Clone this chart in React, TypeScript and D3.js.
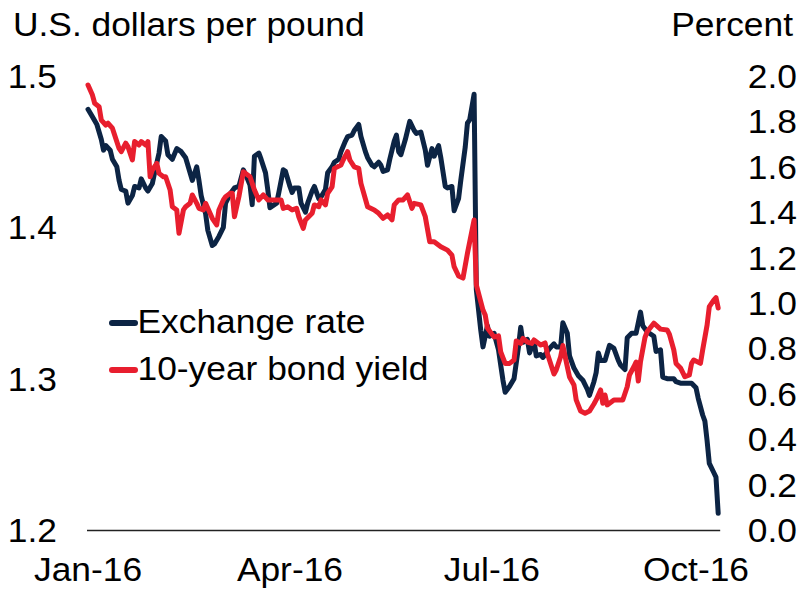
import React from "react";
import * as d3 from "d3";

// Days since 2016-01-01
const fxDays = [0,2,4,5,6,7,8,10,11,13,14,15,17,18,20,21,23,24,26,27,29,30,32,33,35,36,38,40,42,44,45,47,49,50,51,53,54,56,57,59,61,62,64,66,68,70,71,73,74,75,77,78,80,81,82,83,85,86,88,89,91,92,93,95,96,98,99,101,102,104,105,107,108,110,111,113,114,116,117,119,120,122,123,125,126,128,129,131,132,133,135,136,138,139,140,141,143,145,147,148,150,152,153,155,156,158,159,161,162,164,165,167,168,170,171,172,174,175,177,178,180,181,183,185,186,187,188,190,192,194,195,196,198,199,201,202,204,205,207,208,210,211,213,214,216,217,219,221,223,225,226,228,229,230,231,233,235,237,239,240,242,243,245,247,249,250,252,255,256,258,259,261,262,264,265,267,270,272,274,275,277,278,279,280,282,283,284];
const fxValues = [1.478,1.473,1.468,1.463,1.458,1.451,1.454,1.451,1.445,1.440,1.431,1.425,1.424,1.416,1.421,1.427,1.426,1.432,1.426,1.424,1.429,1.436,1.449,1.460,1.457,1.448,1.445,1.452,1.450,1.446,1.441,1.431,1.440,1.431,1.421,1.409,1.398,1.388,1.389,1.394,1.400,1.416,1.422,1.426,1.427,1.438,1.435,1.428,1.415,1.447,1.449,1.445,1.436,1.425,1.413,1.414,1.416,1.423,1.438,1.437,1.427,1.423,1.426,1.426,1.416,1.410,1.416,1.424,1.427,1.419,1.420,1.425,1.436,1.440,1.443,1.445,1.450,1.457,1.460,1.461,1.464,1.468,1.460,1.450,1.446,1.441,1.440,1.443,1.441,1.437,1.438,1.445,1.457,1.461,1.450,1.448,1.458,1.470,1.464,1.462,1.463,1.451,1.441,1.452,1.447,1.454,1.446,1.427,1.426,1.427,1.411,1.419,1.431,1.453,1.469,1.471,1.488,1.359,1.332,1.321,1.335,1.328,1.330,1.319,1.309,1.299,1.291,1.295,1.300,1.321,1.334,1.324,1.326,1.317,1.325,1.315,1.316,1.314,1.318,1.320,1.323,1.321,1.321,1.337,1.330,1.315,1.307,1.302,1.299,1.293,1.289,1.298,1.304,1.317,1.312,1.312,1.322,1.320,1.312,1.309,1.306,1.327,1.330,1.330,1.344,1.335,1.331,1.328,1.318,1.319,1.301,1.300,1.300,1.300,1.298,1.297,1.297,1.297,1.294,1.287,1.276,1.272,1.259,1.244,1.238,1.235,1.211];

const yieldDays = [0,2,3,5,6,8,9,11,12,14,15,17,18,20,21,23,24,26,27,28,29,31,32,34,35,37,38,40,41,43,44,46,47,49,50,52,53,55,56,58,59,61,62,64,65,66,68,70,71,73,75,77,79,81,84,87,88,90,92,94,95,97,98,101,102,104,105,107,108,110,111,114,115,117,118,120,122,123,126,129,131,133,135,137,138,140,142,144,146,147,150,152,154,156,159,162,164,165,167,169,171,174,175,178,179,180,182,183,185,186,188,190,192,193,195,196,198,200,201,204,206,207,210,211,213,214,216,217,219,220,222,224,226,228,229,231,232,233,234,237,239,241,243,244,246,247,248,249,251,252,255,258,261,262,264,265,267,269,271,272,273,276,277,279,280,282,283,284];
const yieldValues = [1.960,1.916,1.880,1.865,1.806,1.784,1.792,1.770,1.740,1.681,1.667,1.704,1.689,1.630,1.711,1.696,1.711,1.696,1.711,1.556,1.586,1.615,1.571,1.556,1.556,1.498,1.424,1.410,1.307,1.410,1.424,1.439,1.476,1.439,1.417,1.410,1.439,1.395,1.373,1.344,1.410,1.454,1.468,1.483,1.483,1.380,1.468,1.578,1.571,1.556,1.498,1.454,1.476,1.454,1.454,1.454,1.417,1.424,1.410,1.417,1.380,1.329,1.366,1.395,1.432,1.424,1.454,1.432,1.483,1.512,1.593,1.608,1.630,1.667,1.630,1.600,1.593,1.527,1.424,1.410,1.395,1.373,1.388,1.366,1.432,1.454,1.454,1.476,1.417,1.439,1.432,1.380,1.270,1.270,1.248,1.233,1.211,1.160,1.119,1.110,1.219,1.366,1.080,0.969,0.947,0.890,0.863,0.850,0.855,0.784,0.734,0.734,0.749,0.833,0.822,0.844,0.828,0.822,0.837,0.815,0.824,0.778,0.687,0.705,0.763,0.813,0.719,0.674,0.639,0.573,0.524,0.514,0.524,0.555,0.573,0.617,0.558,0.595,0.551,0.573,0.573,0.573,0.631,0.683,0.719,0.740,0.656,0.742,0.848,0.874,0.911,0.885,0.881,0.863,0.793,0.734,0.714,0.675,0.683,0.734,0.749,0.734,0.793,0.903,0.984,1.013,1.024,0.978];

const leftTicks = [1.2, 1.3, 1.4, 1.5];
const rightTicks = [0, 0.2, 0.4, 0.6, 0.8, 1.0, 1.2, 1.4, 1.6, 1.8, 2.0];
const xTickLabels = ["Jan-16", "Apr-16", "Jul-16", "Oct-16"];
const xTickDates = ["2016-01-01", "2016-04-01", "2016-07-01", "2016-10-01"];
const seriesNames = ["Exchange rate", "10-year bond yield"];

const NAVY = "#0c2444";
const RED = "#e81e2e";
const FONT = "'Liberation Sans', Arial, sans-serif";

const toDate = (d: number) => new Date(2016, 0, 1 + d);
const parse = (s: string) => { const [y, m, d] = s.split("-").map(Number); return new Date(y, m - 1, d); };

function T({ x, y, anchor = "start", children }: { x: number; y: number; anchor?: string; children: React.ReactNode }) {
  return (
    <text transform={`translate(${x},${y}) scale(1.04,1)`} fontSize={34} fill="#000" textAnchor={anchor}>
      {children}
    </text>
  );
}

export default function App() {
  const x = d3.scaleTime().domain([new Date(2016, 0, 1), new Date(2016, 9, 1)]).range([88, 696]);
  const yL = d3.scaleLinear().domain([1.2, 1.5]).range([530, 76]);
  const yR = d3.scaleLinear().domain([0, 2]).range([530, 76]);

  const fxLine = d3.line<number>().x((_, i) => x(toDate(fxDays[i]))).y((v) => yL(v));
  const yLine = d3.line<number>().x((_, i) => x(toDate(yieldDays[i]))).y((v) => yR(v));

  const axisEnd = x(toDate(fxDays[fxDays.length - 1])) + 2;

  return (
    <svg width={802} height={589} style={{ position: "absolute", left: 0, top: 0, background: "#fff" }} fontFamily={FONT}>
      <T x={13} y={36}>U.S. dollars per pound</T>
      <T x={793} y={36} anchor="end">Percent</T>

      {leftTicks.map((t) => (
        <T key={"l" + t} x={57} y={yL(t) + 12} anchor="end">{t.toFixed(1)}</T>
      ))}
      {rightTicks.map((t) => (
        <T key={"r" + t} x={797} y={yR(t) + 12} anchor="end">{t.toFixed(1)}</T>
      ))}
      {xTickDates.map((s, i) => (
        <T key={s} x={x(parse(s))} y={581} anchor="middle">{xTickLabels[i]}</T>
      ))}

      <line x1={87} x2={axisEnd} y1={530.5} y2={530.5} stroke="#222" strokeWidth={1.3} />

      <path d={fxLine(fxValues) || ""} fill="none" stroke={NAVY} strokeWidth={5} strokeLinejoin="round" strokeLinecap="round" />
      <path d={yLine(yieldValues) || ""} fill="none" stroke={RED} strokeWidth={5} strokeLinejoin="round" strokeLinecap="round" />

      <line x1={112} x2={135} y1={323} y2={323} stroke={NAVY} strokeWidth={6} strokeLinecap="round" />
      <T x={137.5} y={333}>{seriesNames[0]}</T>
      <line x1={112} x2={135} y1={370} y2={370} stroke={RED} strokeWidth={6} strokeLinecap="round" />
      <T x={137.5} y={380}>{seriesNames[1]}</T>
    </svg>
  );
}
